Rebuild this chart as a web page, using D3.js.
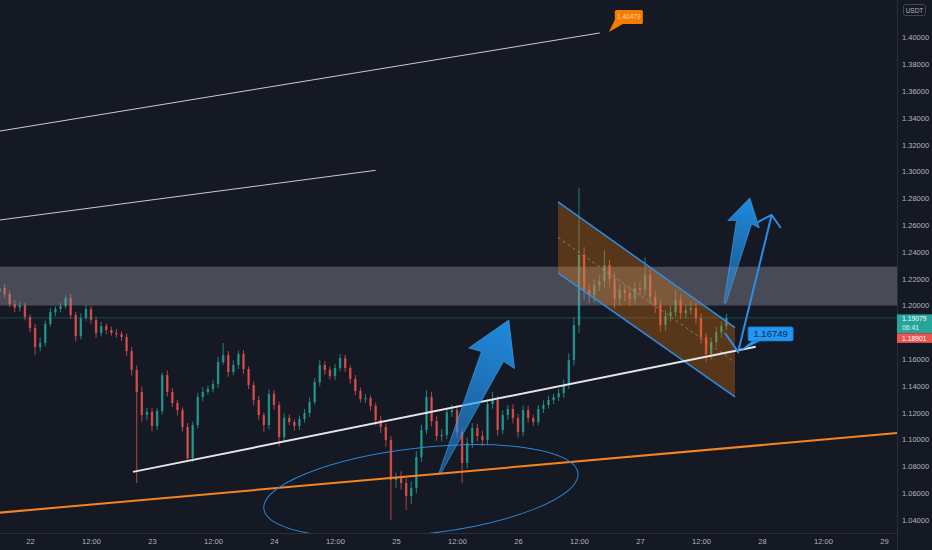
<!DOCTYPE html>
<html><head><meta charset="utf-8">
<script src="https://cdnjs.cloudflare.com/ajax/libs/d3/7.8.5/d3.min.js"></script>
<style>html,body{margin:0;padding:0;background:#151924;overflow:hidden}</style>
</head><body><svg id="c" width="932" height="550"></svg>
<script>
// ---------- DATA ----------
// hourly candles, first candle at 21 Dec 18:00, hour index h counted from 22 Dec 00:00
const firstHour = -6;
const firstOpen = 1.2100;
const closes = [
  1.2131, 1.2086, 1.2010, 1.1985, 1.2002, 1.1914,
  1.1832, 1.1690, 1.1720, 1.1862, 1.1951, 1.1974, 1.1996, 1.2056, 1.1929, 1.1772, 1.1907, 1.1974,
  1.1892, 1.1795, 1.1847, 1.1817, 1.1795, 1.1787, 1.1765, 1.1660, 1.1519, 1.1355, 1.1183, 1.1206,
  1.1101, 1.1213, 1.1481, 1.1355, 1.1273, 1.1220, 1.1094, 1.0862, 1.1108, 1.1317, 1.1355, 1.1377,
  1.1414, 1.1578, 1.1631, 1.1504, 1.1556, 1.1638, 1.1526, 1.1407, 1.1295, 1.1183, 1.1108, 1.1340,
  1.1258, 1.1019, 1.1161, 1.1131, 1.1101, 1.1153, 1.1198, 1.1280, 1.1429, 1.1556, 1.1519, 1.1474,
  1.1534, 1.1608, 1.1534, 1.1452, 1.1362, 1.1302, 1.1310, 1.1250, 1.1146, 1.1094, 1.0997, 1.0698,
  1.0713, 1.0676, 1.0579, 1.0638, 1.0869, 1.1071, 1.1317, 1.1138, 1.1026, 1.1034, 1.1205, 1.1220,
  1.1056, 1.0825, 1.0974, 1.1086, 1.1026, 1.0997, 1.1265, 1.1295, 1.1071, 1.1183, 1.1228, 1.1161,
  1.1056, 1.1220, 1.1161, 1.1131, 1.1228, 1.1258, 1.1295, 1.1317, 1.1347, 1.1407, 1.1593, 1.1854,
  1.2377, 1.2116, 1.2078, 1.2153, 1.2183, 1.2302, 1.2198, 1.2049, 1.2116, 1.2093, 1.2049, 1.2131,
  1.2116, 1.2228, 1.2064, 1.2004, 1.1855, 1.1922, 1.1951, 1.2041, 1.1944, 1.1966, 1.1981, 1.1907,
  1.1765, 1.1638, 1.1728, 1.1802, 1.1847, 1.1908
];
const wickUp = [
  0.0020,0.0030,0.0025,0.0030,0.0025,0.0020,
  0.0020,0.0030,0.0040,0.0025,0.0030,0.0020,0.0025,0.0020,0.0030,0.0025,0.0035,0.0030,
  0.0020,0.0025,0.0030,0.0020,0.0025,0.0030,0.0020,0.0025,0.0030,0.0035,0.0040,0.0030,
  0.0030,0.0025,0.0020,0.0035,0.0030,0.0025,0.0020,0.0030,0.0025,0.0030,0.0035,0.0025,
  0.0030,0.0040,0.0090,0.0030,0.0035,0.0025,0.0030,0.0020,0.0025,0.0030,0.0020,0.0035,
  0.0030,0.0025,0.0035,0.0030,0.0020,0.0025,0.0030,0.0035,0.0030,0.0040,0.0030,0.0025,
  0.0030,0.0030,0.0025,0.0020,0.0030,0.0025,0.0030,0.0020,0.0025,0.0030,0.0025,0.0030,
  0.0040,0.0050,0.0040,0.0050,0.0045,0.0040,0.0050,0.0040,0.0035,0.0045,0.0030,0.0040,
  0.0035,0.0030,0.0040,0.0035,0.0030,0.0040,0.0035,0.0060,0.0030,0.0035,0.0030,0.0035,
  0.0030,0.0035,0.0030,0.0025,0.0030,0.0035,0.0030,0.0025,0.0030,0.0040,0.0050,0.0060,
  0.0500,0.0060,0.0050,0.0040,0.0045,0.0110,0.0040,0.0050,0.0045,0.0040,0.0050,0.0045,
  0.0050,0.0130,0.0050,0.0045,0.0040,0.0045,0.0050,0.0075,0.0040,0.0045,0.0050,0.0040,
  0.0035,0.0030,0.0035,0.0040,0.0035,0.0030
];
const wickDn = [
  0.0025,0.0030,0.0020,0.0035,0.0030,0.0025,
  0.0030,0.0060,0.0030,0.0025,0.0020,0.0030,0.0025,0.0020,0.0030,0.0040,0.0025,0.0020,
  0.0030,0.0035,0.0025,0.0030,0.0020,0.0025,0.0030,0.0035,0.0040,0.0680,0.0050,0.0040,
  0.0040,0.0030,0.0025,0.0035,0.0030,0.0040,0.0035,0.0020,0.0030,0.0025,0.0030,0.0020,
  0.0025,0.0030,0.0020,0.0035,0.0025,0.0030,0.0035,0.0030,0.0040,0.0035,0.0050,0.0030,
  0.0035,0.0070,0.0030,0.0025,0.0035,0.0030,0.0025,0.0030,0.0020,0.0030,0.0035,0.0025,
  0.0030,0.0025,0.0030,0.0035,0.0030,0.0025,0.0030,0.0035,0.0040,0.0045,0.0050,0.0298,
  0.0060,0.0050,0.0104,0.0060,0.0040,0.0035,0.0030,0.0040,0.0035,0.0040,0.0030,0.0035,
  0.0040,0.0150,0.0040,0.0035,0.0040,0.0045,0.0030,0.0035,0.0040,0.0030,0.0035,0.0040,
  0.0040,0.0030,0.0035,0.0030,0.0025,0.0030,0.0025,0.0030,0.0030,0.0035,0.0030,0.0040,
  0.0060,0.0070,0.0060,0.0050,0.0045,0.0050,0.0060,0.0070,0.0050,0.0060,0.0050,0.0045,
  0.0045,0.0040,0.0050,0.0060,0.0050,0.0045,0.0040,0.0035,0.0045,0.0040,0.0035,0.0045,
  0.0050,0.0060,0.0040,0.0035,0.0040,0.0030
];
// 1.18000 is hidden behind the price labels in the reference
const yTicks = [1.04,1.06,1.08,1.10,1.12,1.14,1.16,1.20,1.22,1.24,1.26,1.28,1.30,1.32,1.34,1.36,1.38,1.40];
const xTickHours = [0,12,24,36,48,60,72,84,96,108,120,132,144,156,168];
const xTickLabels = ["22","12:00","23","12:00","24","12:00","25","12:00","26","12:00","27","12:00","28","12:00","29"];
// drawings: [hour from 22 Dec 00:00, price]
const lineTop = [[-8, 1.3289], [112.1, 1.4034]];
const lineMid = [[-8, 1.2628], [68.0, 1.3009]];
const supportLine = [[20.26, 1.0759], [142.76, 1.1693]];
const orangeLine = [[-8, 1.0448], [171, 1.1050]];
const zone = [1.2000, 1.2290];
const channelUpper = [[103.87, 1.2773], [138.7, 1.1836]];
const channelLower = [[103.87, 1.2243], [138.7, 1.1318]];
const ellipseC = [76.9, 1.0616];       // centre
const ellipseR = [31.1, 0.0321];       // half width (hours), half height (price)
const ellipseAngle = -6.5;
const arrowBig = [[80.66, 1.0751], [94.2, 1.1892]];
const arrowSmall = [[136.7, 1.2019], [141.6, 1.2803]];
const pathLine = [[136.7, 1.1795], [139.3, 1.1654], [145.9, 1.2676]];
const topLabel = "1.40479";
const pathLabel = "1.16749";
const lastPrice = "1.19079", countdown = "06:41", otherPrice = "1.18901";

// ---------- SETUP ----------
const W = 932, H = 550, PW = 897, PH = 533;
const svg = d3.select("#c");
const font = "'Liberation Sans', Arial, sans-serif";
svg.append("rect").attr("width", W).attr("height", H).attr("fill", "#151924");
const base = new Date(2020, 11, 22, 0, 0);
const T = h => new Date(base.getTime() + h * 3600000);
const x = d3.scaleTime().domain([T(0), T(168)]).range([30, 884]);
const y = d3.scaleLinear().domain([1.04, 1.40]).range([520, 37.5]);
const P = d => [x(T(d[0])), y(d[1])];

const defs = svg.append("defs");
defs.append("clipPath").attr("id", "plot").append("rect").attr("width", PW).attr("height", PH);
const g = svg.append("g").attr("clip-path", "url(#plot)");

// ---------- CANDLES ----------
const candles = closes.map((c, i) => {
  const o = i === 0 ? firstOpen : closes[i - 1];
  return { h: firstHour + i, o, c, hi: Math.max(o, c) + wickUp[i], lo: Math.min(o, c) - wickDn[i] };
});
const cg = g.append("g");
const green = "#26a69a", red = "#ef5350";
cg.selectAll("line").data(candles).join("line")
  .attr("x1", d => x(T(d.h))).attr("x2", d => x(T(d.h)))
  .attr("y1", d => y(d.hi)).attr("y2", d => y(d.lo))
  .attr("stroke", d => d.c >= d.o ? green : red).attr("stroke-width", 1).attr("opacity", 0.75);
cg.selectAll("rect").data(candles).join("rect")
  .attr("x", d => x(T(d.h)) - 1.2).attr("width", 2.4)
  .attr("y", d => y(Math.max(d.o, d.c)))
  .attr("height", d => Math.max(1, Math.abs(y(d.o) - y(d.c))))
  .attr("fill", d => d.c >= d.o ? green : red).attr("opacity", 0.75);

// price line
const lastC = closes[closes.length - 1];
g.append("line").attr("x1", 0).attr("x2", PW).attr("y1", y(lastC)).attr("y2", y(lastC))
  .attr("stroke", "#26a69a").attr("stroke-opacity", 0.35).attr("stroke-width", 1);

// ---------- ZONE ----------
g.append("rect").attr("x", 0).attr("width", PW)
  .attr("y", y(zone[1])).attr("height", y(zone[0]) - y(zone[1]))
  .attr("fill", "rgb(150,150,160)").attr("fill-opacity", 0.4);

// ---------- CHANNEL ----------
const cu = channelUpper.map(P), cl = channelLower.map(P);
g.append("path").attr("d", `M${cu[0]}L${cu[1]}L${cl[1]}L${cl[0]}Z`)
  .attr("fill", "rgb(245,124,0)").attr("fill-opacity", 0.3);
g.append("line").attr("x1", (cu[0][0])).attr("y1", (cu[0][1] + cl[0][1]) / 2)
  .attr("x2", cu[1][0]).attr("y2", (cu[1][1] + cl[1][1]) / 2)
  .attr("stroke", "#a0a3ab").attr("stroke-opacity", 0.6).attr("stroke-dasharray", "3,3").attr("stroke-width", 1);
[cu, cl].forEach(l => g.append("line").attr("x1", l[0][0]).attr("y1", l[0][1]).attr("x2", l[1][0]).attr("y2", l[1][1])
  .attr("stroke", "#2b8fe8").attr("stroke-width", 1.5));

// ---------- TREND LINES ----------
const line = d3.line().x(d => P(d)[0]).y(d => P(d)[1]);
g.append("path").attr("d", line(lineTop)).attr("stroke", "#c9cbd1").attr("stroke-width", 1).attr("fill", "none");
g.append("path").attr("d", line(lineMid)).attr("stroke", "#c9cbd1").attr("stroke-width", 1).attr("fill", "none");
g.append("path").attr("d", line(orangeLine)).attr("stroke", "#f5861f").attr("stroke-width", 2).attr("fill", "none");
g.append("path").attr("d", line(supportLine)).attr("stroke", "#e6e6ea").attr("stroke-width", 2).attr("fill", "none");

// ellipse
const ec = P(ellipseC);
const erx = x(T(ellipseC[0] + ellipseR[0])) - ec[0];
const ery = y(ellipseC[1] - ellipseR[1]) - ec[1];
g.append("ellipse").attr("cx", ec[0]).attr("cy", ec[1]).attr("rx", erx).attr("ry", ery)
  .attr("transform", `rotate(${ellipseAngle},${ec[0]},${ec[1]})`)
  .attr("fill", "none").attr("stroke", "#2a86d8").attr("stroke-width", 1);

// ---------- ARROW MARKERS ----------
function arrowShape(pts, id) {
  const [t, p] = pts.map(P);
  const dx = p[0] - t[0], dy = p[1] - t[1], L = Math.hypot(dx, dy);
  const u = [dx / L, dy / L], n = [-u[1], u[0]];
  const at = (a, b) => [t[0] + u[0] * a + n[0] * b, t[1] + u[1] * a + n[1] * b];
  const hl = 0.25 * L, hh = 0.15 * L, nh = 0.072 * L;
  const poly = [at(0, 1), at(L - hl + 2, nh), at(L - hl, hh), at(L, 0), at(L - hl, -hh), at(L - hl + 2, -nh), at(0, -1)];
  const grad = defs.append("linearGradient").attr("id", id).attr("gradientUnits", "userSpaceOnUse")
    .attr("x1", t[0]).attr("y1", t[1]).attr("x2", p[0]).attr("y2", p[1]);
  grad.append("stop").attr("offset", 0).attr("stop-color", "#2196f3").attr("stop-opacity", 0.45);
  grad.append("stop").attr("offset", 1).attr("stop-color", "#2196f3").attr("stop-opacity", 0.9);
  g.append("path").attr("d", "M" + poly.join("L") + "Z").attr("fill", `url(#${id})`)
    .attr("stroke", "#4aa8f5").attr("stroke-opacity", 0.7).attr("stroke-width", 0.8);
}
arrowShape(arrowBig, "ga");
arrowShape(arrowSmall, "gb");

// path with arrow head
const pp = pathLine.map(P);
g.append("path").attr("d", "M" + pp.join("L")).attr("stroke", "#2b8fe8").attr("stroke-width", 2).attr("fill", "none");
{
  const a = pp[pp.length - 2], b = pp[pp.length - 1];
  const ang = Math.atan2(a[1] - b[1], a[0] - b[0]);
  const wl = 15, sp = 49 * Math.PI / 180;
  const w1 = [b[0] + wl * Math.cos(ang + sp), b[1] + wl * Math.sin(ang + sp)];
  const w2 = [b[0] + wl * Math.cos(ang - sp), b[1] + wl * Math.sin(ang - sp)];
  g.append("path").attr("d", `M${w1}L${b}L${w2}`).attr("stroke", "#2b8fe8").attr("stroke-width", 2)
    .attr("fill", "none").attr("stroke-linecap", "round").attr("stroke-linejoin", "round");
}
// path label 1.16749
{
  const a = pp[1];
  const bx = a[0] + 10, by = a[1] - 25, bw = 45, bh = 14;
  g.append("path").attr("d", `M${a}L${bx + 4},${by + bh}L${bx + 12},${by + bh}Z`).attr("fill", "#2196f3");
  g.append("rect").attr("x", bx).attr("y", by).attr("width", bw).attr("height", bh).attr("rx", 1.5)
    .attr("fill", "#2196f3").attr("stroke", "#1a7ad0").attr("stroke-width", 0.8);
  g.append("text").attr("x", bx + bw / 2).attr("y", by + 10.5).attr("text-anchor", "middle")
    .attr("font-family", font).attr("font-size", 9.5).attr("fill", "#0d2a4a").text(pathLabel);
}
// top line label
{
  const e = P(lineTop[1]);
  const bx = e[0] + 15, by = e[1] - 23, bw = 28, bh = 14;
  g.append("path").attr("d", `M${e[0] + 9},${e[1] - 1}L${bx},${by + bh - 4}L${bx + 8},${by + bh}Z`).attr("fill", "#f57c00");
  g.append("rect").attr("x", bx).attr("y", by).attr("width", bw).attr("height", bh).attr("rx", 1.5).attr("fill", "#f57c00");
  g.append("text").attr("x", bx + bw / 2).attr("y", by + 9.5).attr("text-anchor", "middle")
    .attr("font-family", font).attr("font-size", 6.5).attr("fill", "#ffd3a8").text(topLabel);
}

// ---------- AXES ----------
svg.append("line").attr("x1", PW + 0.5).attr("x2", PW + 0.5).attr("y1", 0).attr("y2", H).attr("stroke", "#2a2e39");
svg.append("line").attr("x1", 0).attr("x2", PW).attr("y1", PH + 0.5).attr("y2", PH + 0.5).attr("stroke", "#2a2e39");

const yAxis = svg.append("g").attr("transform", `translate(${PW},0)`)
  .call(d3.axisRight(y).tickValues(yTicks).tickFormat(d3.format(".5f")).tickSize(0).tickPadding(5));
yAxis.select(".domain").remove();
yAxis.selectAll("text").attr("font-family", font).attr("font-size", 7.5).attr("fill", "#b2b5be");

const xAxis = svg.append("g").attr("transform", `translate(0,${PH})`)
  .call(d3.axisBottom(x).tickValues(xTickHours.map(T)).tickFormat((d, i) => xTickLabels[i]).tickSize(0).tickPadding(6));
xAxis.select(".domain").remove();
xAxis.selectAll("text").attr("font-family", font).attr("font-size", 7.5).attr("fill", "#b2b5be");

// USDT
svg.append("rect").attr("x", 903.5).attr("y", 4.5).attr("width", 22).attr("height", 11).attr("rx", 2)
  .attr("fill", "none").attr("stroke", "#434651");
svg.append("text").attr("x", 914.5).attr("y", 12.5).attr("text-anchor", "middle").attr("font-family", font)
  .attr("font-size", 6.5).attr("fill", "#b2b5be").text("USDT");

// last price labels
{
  const ly = y(lastC);
  svg.append("rect").attr("x", PW).attr("y", ly - 3.5).attr("width", W - PW).attr("height", 19).attr("fill", "#26a69a");
  svg.append("text").attr("x", PW + 5).attr("y", ly + 3.5).attr("font-family", font).attr("font-size", 6.8).attr("fill", "#ffffff").text(lastPrice);
  svg.append("text").attr("x", PW + 5).attr("y", ly + 12.5).attr("font-family", font).attr("font-size", 6.8).attr("fill", "#e0f2f1").text(countdown);
  svg.append("rect").attr("x", PW).attr("y", ly + 15.5).attr("width", W - PW).attr("height", 9.5).attr("fill", "#ef5350");
  svg.append("text").attr("x", PW + 5).attr("y", ly + 22.8).attr("font-family", font).attr("font-size", 6.8).attr("fill", "#ffffff").text(otherPrice);
}
</script></body></html>
